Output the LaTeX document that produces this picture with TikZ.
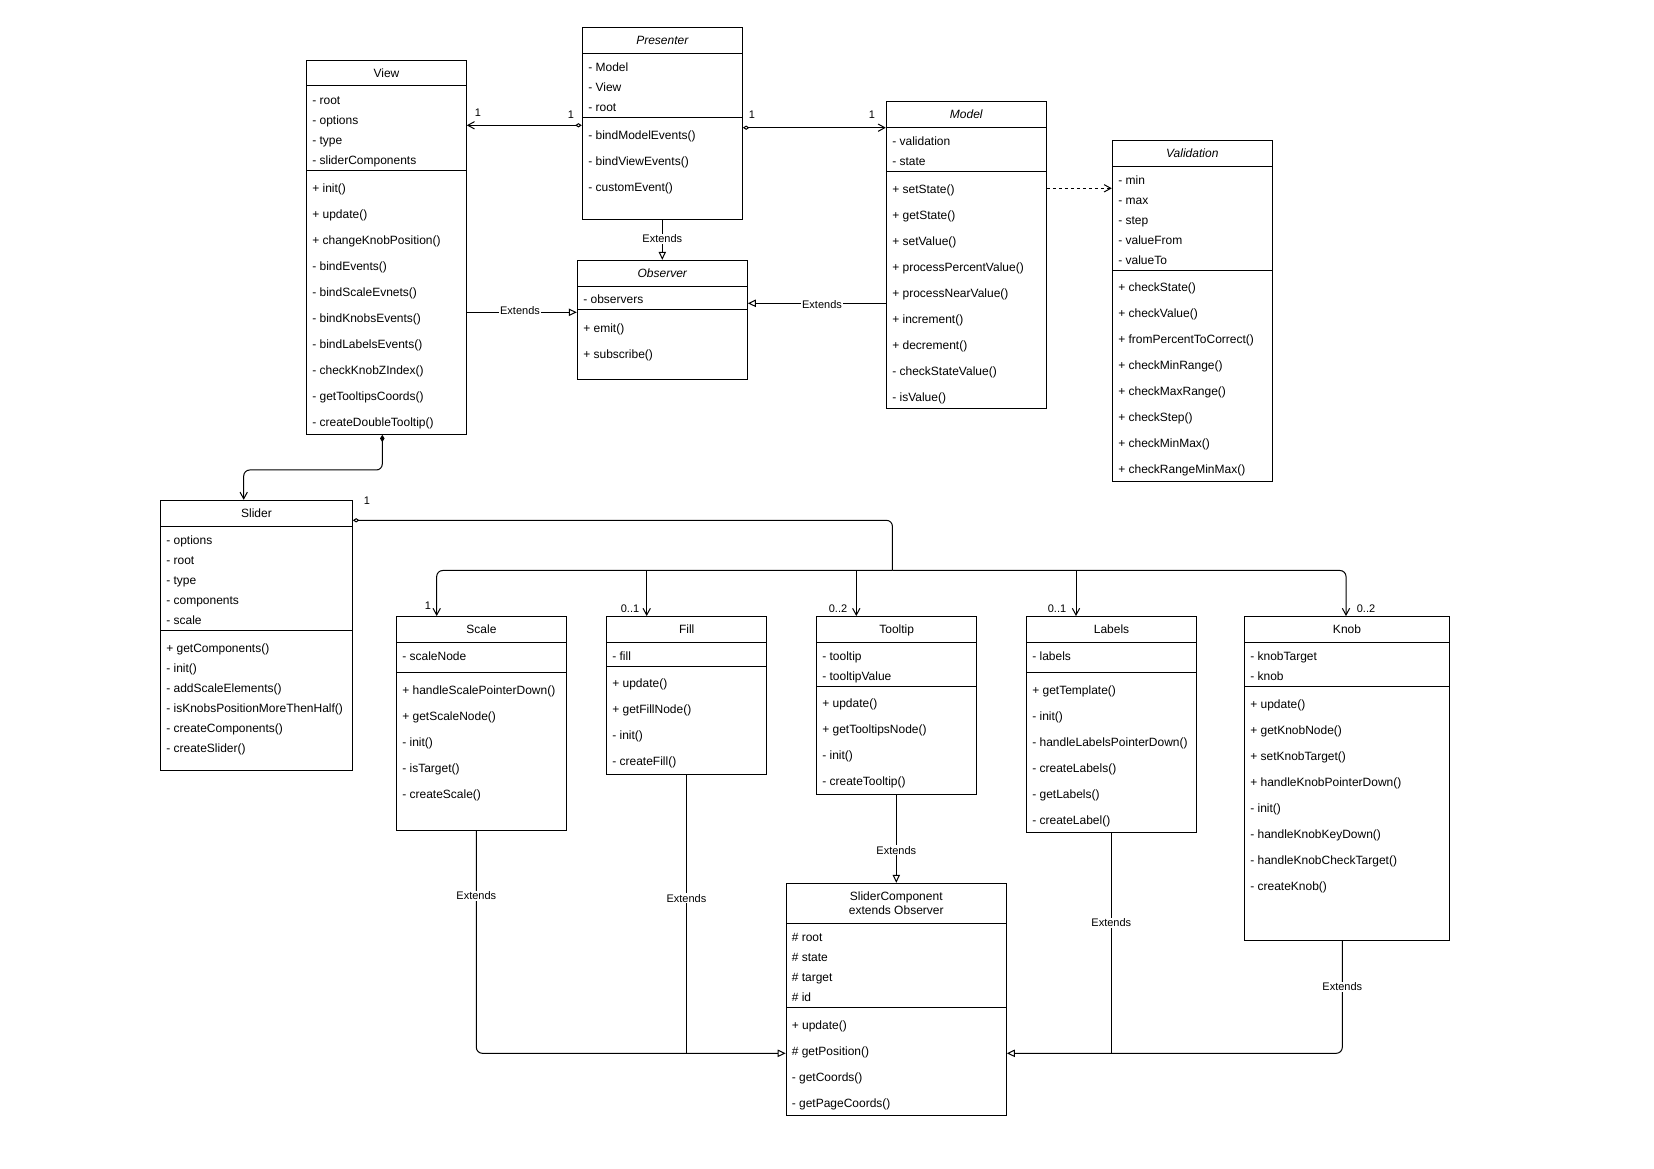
\documentclass[tikz,border=0pt]{standalone}
\usepackage{fontspec}
\setmainfont{Liberation Sans}
\usetikzlibrary{arrows.meta,fit}
\newcommand\fsA{\fontsize{9}{10.5}\selectfont}
\newcommand\fsB{\fontsize{8.25}{9.9}\selectfont}
\tikzset{
 cls/.style={draw, line width=0.75pt, fill=white, inner sep=0pt},
 sepl/.style={line width=0.75pt},
 txt/.style={anchor=west, inner sep=0pt, font=\fsA, text height=6.5pt, text depth=0pt},
 ttl/.style={anchor=center, inner sep=0pt, font=\fsA, text height=6.5pt, text depth=0pt},
 ittl/.style={ttl, font=\fsA\itshape},
 ttltwo/.style={anchor=center, inner sep=0pt, font=\fsA, align=center},
 conn/.style={line width=0.75pt},
 ext/.style={conn, -{Triangle[open,length=6pt,width=5.5pt]}},
 opn/.style={conn, -{Straight Barb[length=5pt,width=5.5pt]}},
 aggo/.style={conn, {Diamond[open,length=5pt,width=3.2pt]}-{Straight Barb[length=5pt,width=5.5pt]}},
 aggstart/.style={conn, {Diamond[open,length=5pt,width=3.2pt]}-},
 comp/.style={conn, {Diamond[length=5.5pt,width=3.4pt]}-{Straight Barb[length=5pt,width=5.5pt]}},
 dep/.style={conn, dash pattern=on 2.25pt off 2.25pt, -{Straight Barb[length=5pt,width=5.5pt]}},
 lbl/.style={fill=white, inner sep=0.8pt, font=\fsB},
 mult/.style={inner sep=0pt, font=\fsB},
}
% name, L, T, R, B, sep1, sep2, title, title style
\newcommand\umlclass[9]{%
 \node[cls, fit={(#2,#3) (#4,#5)}] (#1) {};
 \draw[sepl] (#2,#6) -- (#4,#6);
 \draw[sepl] (#2,#7) -- (#4,#7);
 \node[#9] (#1-title) at ({(#2+#4)/2},{(#3+#6)/2}) {#8};
}
% prefix, x, y0, step, list
\newcommand\members[5]{%
 \foreach \mt [count=\mi] in {#5} {\node[txt] (#1\mi) at (#2,{#3+#4*(\mi-1)}) {\mt};}
}
\begin{document}
\begin{tikzpicture}[x=0.75pt,y=-0.75pt]
\fill[white] (0,0) rectangle (1654,1169);
\useasboundingbox (0,0) rectangle (1654,1169);

% ---------- classes ----------
\umlclass{View}{306.7}{60.7}{466.3}{434.3}{86}{170.3}{View}{ttl}
\members{View-a}{312}{100}{20}{- root, - options, - type, - sliderComponents}
\members{View-m}{312}{187.7}{26}{+ init(), + update(), + changeKnobPosition(), - bindEvents(), - bindScaleEvnets(), - bindKnobsEvents(), - bindLabelsEvents(), - checkKnobZIndex(), - getTooltipsCoords(), - createDoubleTooltip()}

\umlclass{Presenter}{582.3}{27.3}{742.3}{219.3}{53.3}{117.3}{Presenter}{ittl}
\members{Presenter-a}{588}{66.7}{20}{- Model, - View, - root}
\members{Presenter-m}{588}{135}{26}{- bindModelEvents(), - bindViewEvents(), - customEvent()}

\umlclass{Observer}{577.3}{260.3}{747.3}{380}{286.3}{310}{Observer}{ittl}
\members{Observer-a}{583}{299}{20}{- observers}
\members{Observer-m}{583}{327.7}{26}{+ emit(), + subscribe()}

\umlclass{Model}{886.3}{101.7}{1046.3}{409}{127.3}{171.3}{Model}{ittl}
\members{Model-a}{892}{141}{20}{- validation, - state}
\members{Model-m}{892}{189}{26}{+ setState(), + getState(), + setValue(), + processPercentValue(), + processNearValue(), + increment(), + decrement(), - checkStateValue(), - isValue()}

\umlclass{Validation}{1112.3}{140.3}{1272.3}{481.5}{166.3}{270.7}{Validation}{ittl}
\members{Validation-a}{1118}{180}{20}{- min, - max, - step, - valueFrom, - valueTo}
\members{Validation-m}{1118}{287.5}{26}{+ checkState(), + checkValue(), + fromPercentToCorrect(), + checkMinRange(), + checkMaxRange(), + checkStep(), + checkMinMax(), + checkRangeMinMax()}

\umlclass{Slider}{160.7}{500.3}{352.3}{770}{526.7}{630.3}{Slider}{ttl}
\members{Slider-a}{166}{540}{20}{- options, - root, - type, - components, - scale}
\members{Slider-m}{166}{647.7}{20}{+ getComponents(), - init(), - addScaleElements(), - isKnobsPositionMoreThenHalf(), - createComponents(), - createSlider()}

\umlclass{Scale}{396.7}{616.5}{566.3}{830.3}{642.3}{672.3}{Scale}{ttl}
\members{Scale-a}{402}{656}{20}{- scaleNode}
\members{Scale-m}{402}{689.7}{26}{+ handleScalePointerDown(), + getScaleNode(), - init(), - isTarget(), - createScale()}

\umlclass{Fill}{606.7}{616.5}{766.7}{774}{642.3}{666.7}{Fill}{ttl}
\members{Fill-a}{612}{656}{20}{- fill}
\members{Fill-m}{612}{683.5}{26}{+ update(), + getFillNode(), - init(), - createFill()}

\umlclass{Tooltip}{816.7}{616.5}{976.7}{794}{642.3}{686.7}{Tooltip}{ttl}
\members{Tooltip-a}{822}{656}{20}{- tooltip, - tooltipValue}
\members{Tooltip-m}{822}{703.5}{26}{+ update(), + getTooltipsNode(), - init(), - createTooltip()}

\umlclass{Labels}{1026.7}{616.5}{1196.3}{832.3}{642.3}{672.7}{Labels}{ttl}
\members{Labels-a}{1032}{656}{20}{- labels}
\members{Labels-m}{1032}{690.3}{26}{+ getTemplate(), - init(), - handleLabelsPointerDown(), - createLabels(), - getLabels(), - createLabel()}

\umlclass{Knob}{1244.7}{616.5}{1449.3}{940}{642.3}{686.7}{Knob}{ttl}
\members{Knob-a}{1250}{656}{20}{- knobTarget, - knob}
\members{Knob-m}{1250}{704}{26}{+ update(), + getKnobNode(), + setKnobTarget(), + handleKnobPointerDown(), - init(), - handleKnobKeyDown(), - handleKnobCheckTarget(), - createKnob()}

\umlclass{SliderComponent}{786.2}{883.3}{1006.3}{1115}{923.3}{1007.7}{SliderComponent\\extends Observer}{ttltwo}
\members{SliderComponent-a}{791.5}{936.7}{20}{\# root, \# state, \# target, \# id}
\members{SliderComponent-m}{791.5}{1025}{26}{+ update(), \# getPosition(), - getCoords(), - getPageCoords()}

% ---------- connectors ----------
\draw[aggo] (Presenter.west |- 0,125.3) -- (View.east |- 0,125.3);
\draw[aggo] (Presenter.east |- 0,127.7) -- (Model.west |- 0,127.7);
\node[mult] (m1) at (478,112.7) {1};
\node[mult] (m2) at (571,115) {1};
\node[mult] (m3) at (752,115) {1};
\node[mult] (m4) at (872,115) {1};

\draw[ext] (Presenter.south) -- (Observer.north);
\node[lbl] (e1) at (662.3,239) {Extends};
\draw[ext] (View.east |- 0,312.3) -- (Observer.west |- 0,312.3);
\node[lbl] (e2) at (520,310.5) {Extends};
\draw[ext] (Model.west |- 0,303.3) -- (Observer.east |- 0,303.3);
\node[lbl] (e3) at (822,304.5) {Extends};

\draw[dep] (Model.east |- 0,188.3) -- (Validation.west |- 0,188.3);

\draw[comp, rounded corners=4.5pt] (View.south -| 382.3,0) -- (382.3,470) -- (243.7,470) -- (Slider.north -| 243.7,0);

\coordinate (hub) at (892.4,570.5);
\coordinate (bFill) at (646.7,570.5);
\coordinate (bTip) at (856.3,570.5);
\coordinate (bLab) at (1076,570.5);
\draw[aggstart, rounded corners=4.5pt] (Slider.east |- 0,520.3) -- (892.4,520.3) -- (hub);
\draw[opn, rounded corners=4.5pt] (hub) -- (436.7,570.5) -- (Scale.north -| 436.7,0);
\draw[opn, rounded corners=4.5pt] (hub) -- (1346,570.5) -- (Knob.north -| 1346,0);
\draw[opn] (bFill) -- (Fill.north -| bFill);
\draw[opn] (bTip) -- (Tooltip.north -| bTip);
\draw[opn] (bLab) -- (Labels.north -| bLab);
\node[mult] (m5) at (367,501) {1};
\node[mult] (m6) at (428,606) {1};
\node[mult] (m7) at (630,609) {0..1};
\node[mult] (m8) at (838,609) {0..2};
\node[mult] (m9) at (1057,608.5) {0..1};
\node[mult] (m10) at (1366,608.5) {0..2};

\coordinate (jL) at (686.4,1053.3);
\coordinate (jR) at (1111.3,1053.3);
\draw[ext, rounded corners=4.5pt] (Scale.south -| 476.3,0) -- (476.3,1053.3) -- (SliderComponent.west |- jL);
\draw[conn] (Fill.south -| jL) -- (jL);
\draw[ext] (Tooltip.south -| 896.3,0) -- (SliderComponent.north -| 896.3,0);
\draw[ext, rounded corners=4.5pt] (Knob.south -| 1342.3,0) -- (1342.3,1053.3) -- (SliderComponent.east |- jR);
\draw[conn] (Labels.south -| jR) -- (jR);
\node[lbl] (e4) at (476.3,896) {Extends};
\node[lbl] (e5) at (686.4,898.3) {Extends};
\node[lbl] (e6) at (896.3,850.3) {Extends};
\node[lbl] (e7) at (1111.3,923) {Extends};
\node[lbl] (e8) at (1342.3,987) {Extends};
\end{tikzpicture}
\end{document}
